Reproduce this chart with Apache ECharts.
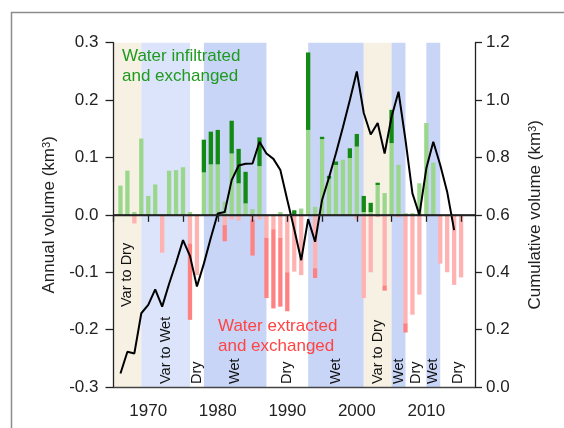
<!DOCTYPE html>
<html>
<head>
<meta charset="utf-8">
<script src="https://cdn.jsdelivr.net/npm/echarts@6/dist/echarts.min.js"></script>
<style>
  html, body { margin: 0; padding: 0; background: #fff; }
  #chart { width: 564px; height: 428px; }
</style>
</head>
<body>
<div id="chart"></div>
<script>
// Annual water volumes (km^3) per year
const years = [
  1966, 1967, 1968, 1969, 1970, 1971, 1972, 1973, 1974, 1975,
  1976, 1977, 1978, 1979, 1980, 1981, 1982, 1983, 1984, 1985,
  1986, 1987, 1988, 1989, 1990, 1991, 1992, 1993, 1994, 1995,
  1996, 1997, 1998, 1999, 2000, 2001, 2002, 2003, 2004, 2005,
  2006, 2007, 2008, 2009, 2010, 2011, 2012, 2013, 2014, 2015
];
// infiltrated (light green)
const infiltrated = [
  0.051, 0.077, 0.005, 0.133, 0.033, 0.053, 0, 0.077, 0.078, 0.083,
  0.005, 0, 0.074, 0.088, 0.088, 0.023, 0.107, 0.055, 0.020, 0.010,
  0.085, 0, 0, 0.005, 0, 0, 0.011, 0.148, 0.014, 0.132,
  0.063, 0.087, 0.096, 0.099, 0.119, 0.005, 0.005, 0.052, 0.038, 0.125,
  0.087, 0.003, 0.003, 0.055, 0.160, 0.091, 0, 0, 0, 0
];
// exchanged, positive part (dark green)
const exchangedIn = [
  0, 0, 0, 0, 0, 0, 0, 0, 0, 0,
  0, 0, 0.057, 0.057, 0.060, 0, 0.057, 0.060, 0.055, 0,
  0.050, 0, 0, 0, 0, 0.008, 0, 0.135, 0, 0.004,
  0.005, 0.006, 0, 0.017, 0.022, 0.028, 0.016, 0.004, 0, 0.058,
  0, 0, 0, 0, 0, 0, 0, 0, 0, 0
];
// extracted (light red)
const extracted = [
  0, 0, -0.015, 0, 0, 0, -0.066, 0, 0, 0,
  -0.050, -0.105, 0, 0, 0, -0.018, -0.008, -0.010, 0, -0.008,
  -0.008, -0.040, -0.025, -0.040, -0.100, -0.099, -0.105, 0, -0.093, 0,
  0, 0, 0, 0, -0.008, -0.145, -0.100, -0.004, -0.123, 0,
  -0.004, -0.189, -0.174, -0.139, -0.003, 0, -0.085, -0.100, -0.122, -0.109
];
// exchanged, negative part (darker red)
const exchangedOut = [
  0, 0, 0, 0, 0, 0, 0, 0, 0, 0,
  -0.133, 0, 0, 0, 0, -0.028, 0, 0, 0, -0.063,
  0, -0.105, -0.138, -0.120, -0.068, 0, 0, 0, -0.017, 0,
  0, 0, 0, 0, 0, 0, 0, 0, -0.009, 0,
  0, -0.016, 0, 0, 0, 0, 0, 0, 0, 0
];

// Cumulative volume (km^3)
const cumYears = years.slice(0, 49);
const cumulative = [
  0.047, 0.123, 0.117, 0.257, 0.286, 0.340, 0.280, 0.360, 0.433, 0.512,
  0.457, 0.350, 0.430, 0.520, 0.605, 0.610, 0.721, 0.772, 0.778, 0.779,
  0.855, 0.814, 0.795, 0.756, 0.652, 0.550, 0.442, 0.585, 0.506, 0.652,
  0.730, 0.815, 0.905, 1.000, 1.100, 0.955, 0.880, 0.920, 0.814, 0.942,
  1.029, 0.861, 0.675, 0.600, 0.762, 0.855, 0.774, 0.680, 0.547
];

// Climate periods
const periodStart = [1965, 1969, 1976, 1978, 1987, 1993, 2001, 2005, 2007, 2010, 2012];
const periodEnd   = [1969, 1976, 1978, 1987, 1993, 2001, 2005, 2007, 2010, 2012, 2017];
const periodLabel = ['Var to Dry', 'Var to Wet', 'Dry', 'Wet', 'Dry', 'Wet', 'Var to Dry', 'Wet', 'Dry', 'Wet', 'Dry'];
const periodKind  = ['varDry', 'varWet', 'dry', 'wet', 'dry', 'wet', 'varDry', 'wet', 'dry', 'wet', 'dry'];

const X_MIN = 1965, X_MAX = 2017;
const FONT = 'Liberation Sans, Arial, Helvetica, sans-serif';
const kindColor = { varDry: '#f6f1e3', varWet: '#dbe4fa', wet: '#c8d5f7', dry: 'rgba(255,255,255,0)' };

// one category per year, spanning the same range as the value axis
const yearSlots = [];
for (let y = X_MIN; y <= X_MAX; y++) yearSlots.push(String(y));
const bySlot = vals => yearSlots.map(s => {
  const i = years.indexOf(Number(s));
  return i < 0 ? 0 : vals[i];
});
const pairs = (xs, ys) => xs.map((x, i) => [x, ys[i]]);

const areas = periodStart.map((s, i) => [
  {
    xAxis: s,
    name: periodLabel[i],
    itemStyle: { color: kindColor[periodKind[i]] },
    label: {
      show: true,
      position: 'insideBottom',
      distance: i === 0 ? 80 : 3,
      rotate: 90,
      align: 'left',
      verticalAlign: 'middle',
      color: '#111',
      fontSize: 14.5,
      fontFamily: FONT
    }
  },
  { xAxis: periodEnd[i] }
]);

const chart = echarts.init(document.getElementById('chart'), null, { renderer: 'canvas' });

const axisLineStyle = { color: '#222', width: 1.3 };
const nameRich = { sup: { fontSize: 11, verticalAlign: 'top', fontFamily: FONT, color: '#222' } };

chart.setOption({
  animation: false,
  backgroundColor: '#fff',
  grid: { left: 113.5, right: 89, top: 42.7, bottom: 41 },
  xAxis: [
    {
      type: 'value', min: X_MIN, max: X_MAX, interval: 5, z: 10,
      axisLine: { lineStyle: axisLineStyle },
      axisTick: { length: 7, lineStyle: axisLineStyle },
      axisLabel: {
        margin: 16, fontSize: 17, color: '#222', fontFamily: FONT,
        showMaxLabel: false,
        formatter: v => (v % 10 === 0 ? String(v) : '')
      },
      splitLine: { show: false }
    },
    {
      type: 'value', min: X_MIN, max: X_MAX, position: 'top', z: 10,
      axisLine: { lineStyle: { color: '#444', width: 1.3 } },
      axisTick: { show: false }, axisLabel: { show: false }, splitLine: { show: false }
    },
    {
      type: 'category', data: yearSlots, boundaryGap: false, show: false
    }
  ],
  yAxis: [
    {
      type: 'value', min: -0.3, max: 0.3, interval: 0.1, z: 10,
      name: 'Annual volume (km{sup|3})',
      nameLocation: 'middle', nameGap: 50, nameRotate: 90,
      nameTextStyle: { fontSize: 17, color: '#222', fontFamily: FONT, rich: nameRich },
      axisLine: { show: true, lineStyle: axisLineStyle },
      axisTick: { show: true, length: 8, lineStyle: axisLineStyle },
      axisLabel: { margin: 15, fontSize: 17, color: '#222', fontFamily: FONT, formatter: v => v.toFixed(1) },
      splitLine: { show: false }
    },
    {
      type: 'value', min: 0, max: 1.2, interval: 0.2, position: 'right', z: 10,
      name: 'Cumulative volume (km{sup|3})',
      nameLocation: 'middle', nameGap: 52, nameRotate: 90,
      nameTextStyle: { fontSize: 17, color: '#222', fontFamily: FONT, rich: nameRich },
      axisLine: { show: true, lineStyle: axisLineStyle },
      axisTick: { show: true, length: 7, lineStyle: axisLineStyle },
      axisLabel: { margin: 11, fontSize: 17, color: '#222', fontFamily: FONT, formatter: v => v.toFixed(1) },
      splitLine: { show: false }
    }
  ],
  series: [
    {
      name: 'periods', type: 'line', data: [], z: 1, silent: true,
      markArea: { silent: true, data: areas }
    },
    {
      name: 'Infiltrated', type: 'bar', xAxisIndex: 2, stack: 'v', barWidth: 4.3, z: 3,
      itemStyle: { color: '#9ad78d' }, data: bySlot(infiltrated)
    },
    {
      name: 'Exchanged in', type: 'bar', xAxisIndex: 2, stack: 'v', barWidth: 4.3, z: 3,
      itemStyle: { color: '#138a13' }, data: bySlot(exchangedIn)
    },
    {
      name: 'Extracted', type: 'bar', xAxisIndex: 2, stack: 'v', barWidth: 4.3, z: 3,
      itemStyle: { color: '#ffb2b2' }, data: bySlot(extracted)
    },
    {
      name: 'Exchanged out', type: 'bar', xAxisIndex: 2, stack: 'v', barWidth: 4.3, z: 3,
      itemStyle: { color: '#ff8282' }, data: bySlot(exchangedOut),
      markLine: {
        silent: true, symbol: 'none', label: { show: false },
        lineStyle: { color: '#111', width: 1.5, type: 'solid' },
        data: [{ yAxis: 0 }]
      }
    },
    {
      name: 'Cumulative', type: 'line', yAxisIndex: 1, z: 6,
      symbol: 'none', lineStyle: { color: '#000', width: 2 },
      data: pairs(cumYears, cumulative)
    }
  ],
  graphic: [
    {
      type: 'rect', left: 9, top: 10, silent: true, z: 100,
      shape: { width: 700, height: 600 },
      style: { fill: 'none', stroke: '#8c8c8c', lineWidth: 1.5 }
    },
    {
      type: 'text', left: 122, top: 46, silent: true, z: 100,
      style: { text: 'Water infiltrated\nand exchanged', fill: '#1f9a1f', font: '17px ' + FONT, lineHeight: 20 }
    },
    {
      type: 'text', left: 218, top: 316, silent: true, z: 100,
      style: { text: 'Water extracted\nand exchanged', fill: '#ff4444', font: '17px ' + FONT, lineHeight: 20 }
    }
  ]
});
</script>
</body>
</html>
